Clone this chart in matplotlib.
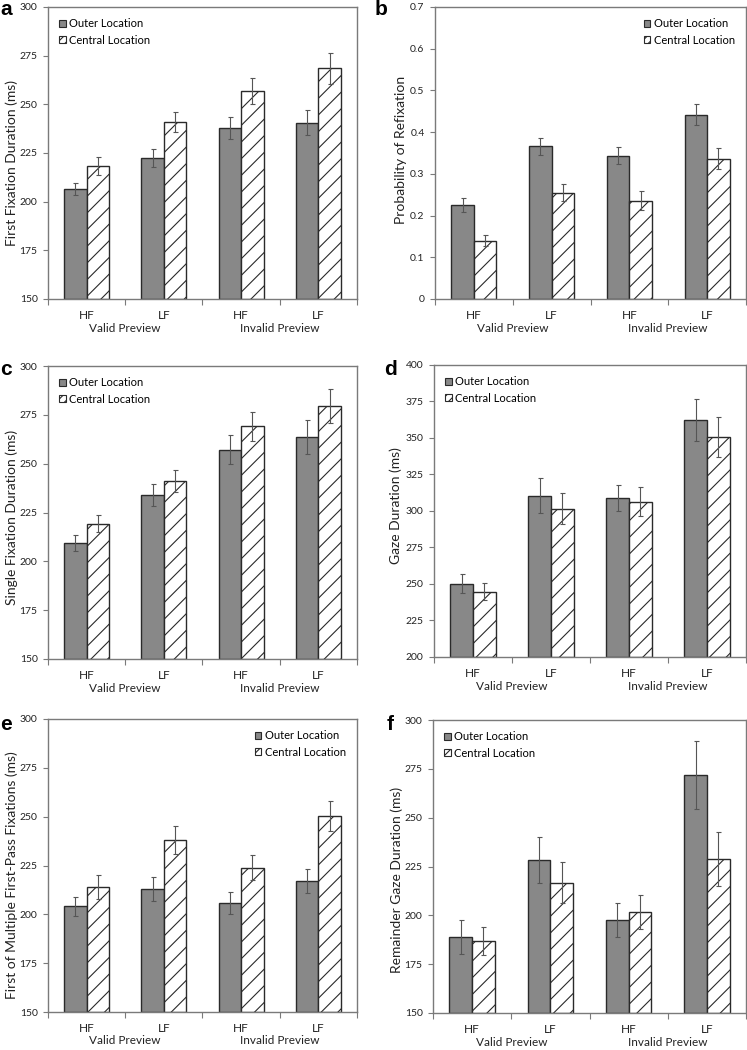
import matplotlib
matplotlib.use("Agg")
import matplotlib.pyplot as plt
import numpy as np
from matplotlib.patches import Patch

plt.rcParams['font.family'] = ['Lato', 'DejaVu Sans']
plt.rcParams['hatch.linewidth'] = 0.8
plt.rcParams['hatch.color'] = '#222222'

categories = ['HF', 'LF', 'HF', 'LF']
groups = ['Valid Preview', 'Invalid Preview']
series_names = ['Outer Location', 'Central Location']

a_outer = [206.5, 222.3, 237.8, 240.6]
a_outer_err = [3.2, 4.5, 5.6, 6.4]
a_central = [218.2, 240.9, 256.9, 268.5]
a_central_err = [4.5, 5.0, 6.5, 8.0]

b_outer = [0.226, 0.366, 0.344, 0.442]
b_outer_err = [0.017, 0.021, 0.021, 0.026]
b_central = [0.140, 0.255, 0.236, 0.336]
b_central_err = [0.014, 0.020, 0.022, 0.025]

c_outer = [209.5, 234.0, 257.2, 263.5]
c_outer_err = [4.2, 5.8, 7.3, 8.7]
c_central = [219.3, 241.2, 269.1, 279.5]
c_central_err = [4.5, 5.8, 7.5, 8.5]

d_outer = [250.2, 310.4, 309.2, 362.4]
d_outer_err = [6.4, 12.1, 8.9, 14.6]
d_central = [244.7, 301.5, 306.5, 350.7]
d_central_err = [5.9, 10.7, 9.6, 13.7]

e_outer = [204.1, 212.8, 205.8, 217.2]
e_outer_err = [4.8, 6.1, 5.8, 6.1]
e_central = [214.0, 238.1, 223.9, 250.5]
e_central_err = [6.0, 7.2, 6.3, 7.7]

f_outer = [188.8, 228.4, 197.8, 271.8]
f_outer_err = [8.7, 11.8, 8.7, 17.4]
f_central = [186.7, 216.8, 201.8, 228.9]
f_central_err = [7.2, 10.3, 8.7, 13.9]

ylabels = ['First Fixation Duration (ms)', 'Probability of Refixation',
           'Single Fixation Duration (ms)', 'Gaze Duration (ms)',
           'First of Multiple First-Pass Fixations (ms)', 'Remainder Gaze Duration (ms)']
letters = ['a', 'b', 'c', 'd', 'e', 'f']

W, H = 747, 1050
fig = plt.figure(figsize=(W / 100, H / 100), dpi=100)

# pixel boxes: (left, top, right, bottom)
boxes = [(48, 7, 357, 299), (435, 7, 746, 299),
         (48, 366, 357, 659), (434, 365, 746, 657),
         (48, 719, 357, 1012), (433, 720, 746, 1013)]
# letter centre x, baseline y (pixels)
letter_pos = [(6, 15), (381, 15), (6, 375), (391, 375), (6, 730), (390, 730)]
# ylabel right edge offset (px from axis) and vertical fraction
ylab_pos = [(-30, 0.466), (-28, 0.51), (-30, 0.483), (-32, 0.52), (-30, 0.467), (-30, 0.454)]

panels = [
    (a_outer, a_outer_err, a_central, a_central_err, (150, 300), np.arange(150, 301, 25), 'upper left'),
    (b_outer, b_outer_err, b_central, b_central_err, (0, 0.7), np.round(np.arange(0, 0.71, 0.1), 1), 'upper right'),
    (c_outer, c_outer_err, c_central, c_central_err, (150, 300), np.arange(150, 301, 25), 'upper left'),
    (d_outer, d_outer_err, d_central, d_central_err, (200, 400), np.arange(200, 401, 25), 'upper left'),
    (e_outer, e_outer_err, e_central, e_central_err, (150, 300), np.arange(150, 301, 25), 'upper right'),
    (f_outer, f_outer_err, f_central, f_central_err, (150, 300), np.arange(150, 301, 25), 'upper left'),
]

spine_c = '#7a7a7a'
txt_c = '#222222'
bw = 0.29
x = np.arange(len(categories))

for i, (box, (o, oe, c, ce, ylim, yt, lloc)) in enumerate(zip(boxes, panels)):
    l, t, r, b = box
    ax = fig.add_axes([l / W, 1 - b / H, (r - l) / W, (b - t) / H])
    ax.bar(x - bw / 2, np.array(o) - ylim[0], bw, bottom=ylim[0], color='#888888',
           edgecolor='#2a2a2a', linewidth=1.0, zorder=2)
    ax.bar(x + bw / 2, np.array(c) - ylim[0], bw, bottom=ylim[0], color='white',
           edgecolor='#2a2a2a', linewidth=1.0, hatch='//', zorder=2)
    ax.errorbar(x - bw / 2, o, yerr=oe, fmt='none', ecolor='#555555', elinewidth=0.8,
                capsize=1.8, capthick=0.8, zorder=3)
    ax.errorbar(x + bw / 2, c, yerr=ce, fmt='none', ecolor='#555555', elinewidth=0.8,
                capsize=1.8, capthick=0.8, zorder=3)
    ax.set_xlim(-0.5, 3.5)
    ax.set_ylim(*ylim)
    ax.set_yticks(yt)
    if i == 1:
        ax.set_yticklabels(['0' if v == 0 else f'{v:.1f}' for v in yt])
    else:
        ax.set_yticklabels([f'{int(v)}' for v in yt])
    ax.set_xticks(x)
    ax.set_xticklabels(categories)
    ax.set_xticks([-0.5, 0.5, 1.5, 2.5, 3.5], minor=True)
    ax.tick_params(axis='x', which='major', length=0, pad=8, labelsize=8.5, colors=txt_c)
    ax.tick_params(axis='x', which='minor', length=4, width=0.8, color=spine_c)
    ax.tick_params(axis='y', length=3.5, width=0.8, color=spine_c, labelsize=7.5,
                   labelcolor=txt_c, pad=4)
    for s in ax.spines.values():
        s.set_color(spine_c)
        s.set_linewidth(1.0)
    # group labels
    for gi, gname in enumerate(groups):
        ax.text(0.5 + 2 * gi, -29 / (b - t), gname, transform=ax.get_xaxis_transform(),
                ha='center', va='center', fontsize=8.5, color=txt_c)
    ax.set_ylabel(ylabels[i], fontsize=10, color=txt_c)
    ax.yaxis.set_label_coords(ylab_pos[i][0] / (r - l), ylab_pos[i][1])
    handles = [Patch(facecolor='#888888', edgecolor='#2a2a2a', linewidth=0.8),
               Patch(facecolor='white', edgecolor='#2a2a2a', linewidth=0.8, hatch='////')]
    ax.legend(handles, series_names, loc=lloc, frameon=False, fontsize=8,
              handlelength=0.6, handleheight=0.6, handletextpad=0.3, labelspacing=0.5,
              borderaxespad=0.6)
    fig.text(letter_pos[i][0] / W, 1 - letter_pos[i][1] / H, letters[i], fontsize=15,
             fontweight='bold', ha='center', va='baseline',
             family=['Liberation Sans', 'DejaVu Sans'])

fig.savefig('out.png', dpi=100)
